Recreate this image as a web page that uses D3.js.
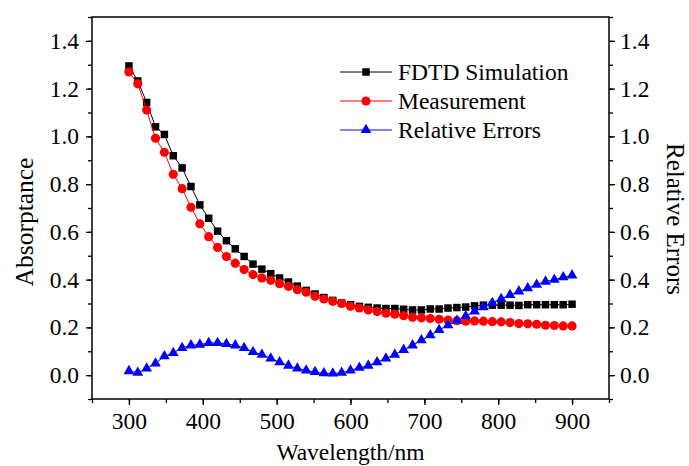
<!DOCTYPE html>
<html>
<head>
<meta charset="utf-8">
<script src="https://cdn.jsdelivr.net/npm/d3@7"></script>
<style>
  body { margin: 0; background: #fff; }
  svg text { font-family: "Liberation Serif", "Times New Roman", serif; fill: #000; }
</style>
</head>
<body>
<svg id="chart" width="689" height="466"></svg>
<script>
// wavelengths 300..900 nm, step 12
const wavelengths = [
  300, 312, 324, 336, 348, 360, 372, 384, 396, 408, 420, 432, 444, 456, 468, 480, 492,
  504, 516, 528, 540, 552, 564, 576, 588, 600, 612, 624, 636, 648, 660, 672, 684, 696,
  708, 720, 732, 744, 756, 768, 780, 792, 804, 816, 828, 840, 852, 864, 876, 888, 900
];
const fdtd = [
  1.295, 1.232, 1.142, 1.040, 1.008, 0.919, 0.868, 0.790, 0.713, 0.657, 0.603, 0.563, 0.529,
  0.497, 0.465, 0.444, 0.425, 0.407, 0.390, 0.373, 0.355, 0.340, 0.325, 0.313, 0.302, 0.295,
  0.288, 0.284, 0.281, 0.279, 0.279, 0.276, 0.273, 0.273, 0.277, 0.277, 0.281, 0.283, 0.285,
  0.290, 0.293, 0.293, 0.293, 0.293, 0.292, 0.295, 0.295, 0.295, 0.295, 0.295, 0.297
];
const measurement = [
  1.270, 1.220, 1.110, 0.992, 0.933, 0.841, 0.781, 0.703, 0.634, 0.580, 0.535, 0.497, 0.469,
  0.442, 0.421, 0.407, 0.397, 0.383, 0.372, 0.358, 0.347, 0.330, 0.319, 0.309, 0.300, 0.288,
  0.281, 0.273, 0.266, 0.259, 0.255, 0.249, 0.242, 0.240, 0.237, 0.234, 0.231, 0.228, 0.226,
  0.227, 0.226, 0.224, 0.223, 0.220, 0.216, 0.215, 0.213, 0.209, 0.208, 0.206, 0.206
];
const relErrors = [
  0.017, 0.010, 0.028, 0.049, 0.079, 0.093, 0.114, 0.125, 0.128, 0.135, 0.135, 0.131, 0.125,
  0.114, 0.097, 0.086, 0.070, 0.054, 0.040, 0.028, 0.020, 0.013, 0.008, 0.007, 0.010, 0.020,
  0.031, 0.040, 0.054, 0.070, 0.086, 0.106, 0.125, 0.146, 0.167, 0.189, 0.209, 0.228, 0.247,
  0.267, 0.285, 0.302, 0.319, 0.336, 0.351, 0.364, 0.379, 0.392, 0.400, 0.410, 0.418
];
const xTicks = [300, 400, 500, 600, 700, 800, 900];
const yTicks = [0.0, 0.2, 0.4, 0.6, 0.8, 1.0, 1.2, 1.4];
const seriesNames = ["FDTD Simulation", "Measurement", "Relative Errors"];

const svg = d3.select("#chart");
const margin = { left: 92, right: 80, top: 17, bottom: 67 };
const W = 689, H = 466;
const x = d3.scaleLinear().domain([250, 950]).range([margin.left, W - margin.right]);
const y = d3.scaleLinear().domain([-0.1, 1.5]).range([H - margin.bottom, margin.top]);
const y2 = d3.scaleLinear().domain([-0.1, 1.5]).range([H - margin.bottom, margin.top]);

const fontSize = 23.5;
const minorX = d3.range(250, 951, 50);
const minorY = d3.range(-1, 16).map((d) => d / 10);

// axes
const xAxis = svg.append("g").attr("transform", `translate(0,${y.range()[0]})`)
  .call(d3.axisBottom(x).tickValues(xTicks).tickSize(6).tickPadding(7).tickFormat(d3.format("d")));
const xMinor = svg.append("g").attr("transform", `translate(0,${y.range()[0]})`)
  .call(d3.axisBottom(x).tickValues(minorX).tickSize(4).tickFormat(""));
const yAxis = svg.append("g").attr("transform", `translate(${x.range()[0]},0)`)
  .call(d3.axisLeft(y).tickValues(yTicks).tickSize(6).tickPadding(7).tickFormat(d3.format(".1f")));
const yMinor = svg.append("g").attr("transform", `translate(${x.range()[0]},0)`)
  .call(d3.axisLeft(y).tickValues(minorY).tickSize(4).tickFormat(""));
const y2Axis = svg.append("g").attr("transform", `translate(${x.range()[1]},0)`)
  .call(d3.axisRight(y2).tickValues(yTicks).tickSize(6).tickPadding(5).tickFormat(d3.format(".1f")));
const y2Minor = svg.append("g").attr("transform", `translate(${x.range()[1]},0)`)
  .call(d3.axisRight(y2).tickValues(minorY).tickSize(4).tickFormat(""));

[xAxis, xMinor, yAxis, yMinor, y2Axis, y2Minor].forEach((g) => {
  g.attr("font-family", null).attr("font-size", null);
  g.select(".domain").remove();
  g.selectAll("line").attr("stroke", "#000").attr("stroke-width", 1.3);
  g.selectAll("text")
    .style("font-family", "'Liberation Serif', serif")
    .style("font-size", fontSize + "px");
});

// frame
svg.append("rect")
  .attr("x", x.range()[0]).attr("y", y.range()[1])
  .attr("width", x.range()[1] - x.range()[0])
  .attr("height", y.range()[0] - y.range()[1])
  .attr("fill", "none").attr("stroke", "#000").attr("stroke-width", 1.5);

// titles
svg.append("text")
  .attr("x", (x.range()[0] + x.range()[1]) / 2).attr("y", 460)
  .attr("text-anchor", "middle").attr("font-size", 23.5)
  .text("Wavelength/nm");
svg.append("text")
  .attr("transform", `translate(33,222) rotate(-90)`)
  .attr("text-anchor", "middle").attr("font-size", 25.5)
  .text("Absorptance");
svg.append("text")
  .attr("transform", `translate(667,219) rotate(90)`)
  .attr("text-anchor", "middle").attr("font-size", 25)
  .text("Relative Errors");

const series = [
  { name: seriesNames[0], values: fdtd, scale: y, color: "#000000", symbol: d3.symbolSquare, size: 56 },
  { name: seriesNames[1], values: measurement, scale: y, color: "#ff0000", symbol: d3.symbolCircle, size: 66 },
  { name: seriesNames[2], values: relErrors, scale: y2, color: "#0000ff", symbol: d3.symbolTriangle, size: 50 }
];

series.forEach((s) => {
  const pts = wavelengths.map((w, i) => [w, s.values[i]]);
  const line = d3.line().x((d) => x(d[0])).y((d) => s.scale(d[1]));
  svg.append("path").datum(pts)
    .attr("d", line).attr("fill", "none")
    .attr("stroke", s.color).attr("stroke-width", 1);
  svg.append("g").selectAll("path").data(pts).join("path")
    .attr("d", d3.symbol().type(s.symbol).size(s.size))
    .attr("transform", (d) => `translate(${x(d[0])},${s.scale(d[1])})`)
    .attr("fill", s.color);
});

// legend
const legend = svg.append("g");
series.forEach((s, i) => {
  const ly = 72 + i * 29;
  legend.append("line")
    .attr("x1", 340).attr("x2", 392).attr("y1", ly).attr("y2", ly)
    .attr("stroke", s.color).attr("stroke-width", 1);
  legend.append("path")
    .attr("d", d3.symbol().type(s.symbol).size(s.size))
    .attr("transform", `translate(366,${ly})`)
    .attr("fill", s.color);
  legend.append("text")
    .attr("x", 398).attr("y", ly + 8)
    .attr("font-size", 23.5)
    .text(s.name);
});
</script>
</body>
</html>
